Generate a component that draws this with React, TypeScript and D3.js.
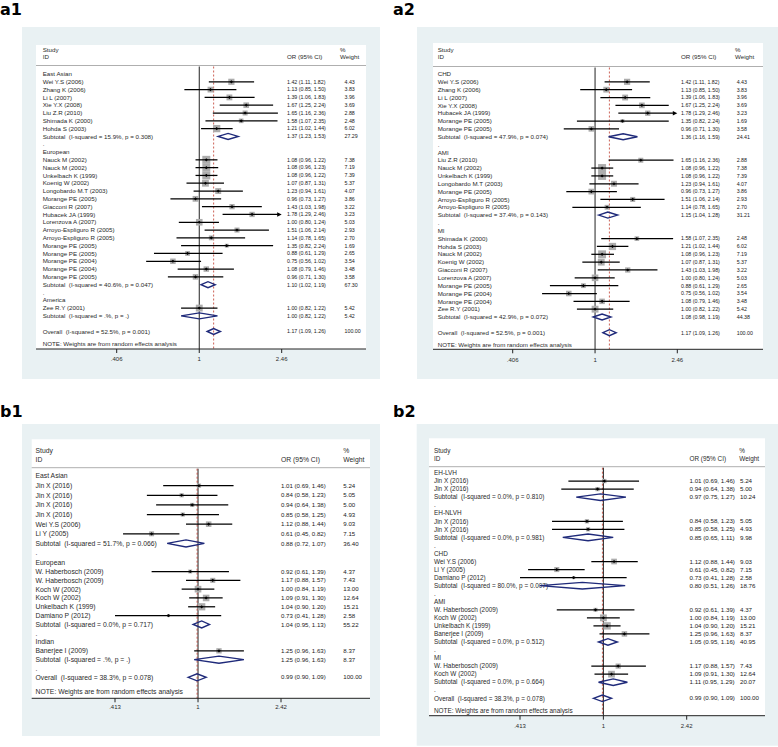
import React from 'react';
import * as d3 from 'd3';

// kind: g = group heading, s = study, t = subtotal, o = overall, d = "." spacer, b = blank
type Row = [string, string, number?, number?, number?, number?];

const a1Rows: Row[] = [
  ['g', 'East Asian'],
  ['s', 'Wei Y.S (2006)', 1.42, 1.11, 1.82, 4.43],
  ['s', 'Zhang K (2006)', 1.13, 0.85, 1.5, 3.83],
  ['s', 'Li L (2007)', 1.39, 1.06, 1.83, 3.96],
  ['s', 'Xie Y.X (2008)', 1.67, 1.25, 2.24, 3.69],
  ['s', 'Liu Z.R (2010)', 1.65, 1.16, 2.36, 2.88],
  ['s', 'Shimada K (2000)', 1.58, 1.07, 2.35, 2.48],
  ['s', 'Hohda S (2003)', 1.21, 1.02, 1.44, 6.02],
  ['t', 'Subtotal  (I-squared = 15.9%, p = 0.308)', 1.37, 1.23, 1.53, 27.29],
  ['d', '.'],
  ['g', 'European'],
  ['s', 'Nauck M (2002)', 1.08, 0.96, 1.22, 7.38],
  ['s', 'Nauck M (2002)', 1.08, 0.96, 1.23, 7.19],
  ['s', 'Unkelbach K (1999)', 1.08, 0.96, 1.22, 7.39],
  ['s', 'Koenig W (2002)', 1.07, 0.87, 1.31, 5.37],
  ['s', 'Longobardo M.T (2003)', 1.23, 0.94, 1.61, 4.07],
  ['s', 'Morange PE (2005)', 0.96, 0.73, 1.27, 3.86],
  ['s', 'Giacconi R (2007)', 1.43, 1.03, 1.98, 3.22],
  ['s', 'Hubacek JA (1999)', 1.78, 1.29, 2.46, 3.23],
  ['s', 'Lorenzova A (2007)', 1.0, 0.8, 1.24, 5.03],
  ['s', 'Arroyo-Espliguro R (2005)', 1.51, 1.06, 2.14, 2.93],
  ['s', 'Arroyo-Espliguro R (2005)', 1.14, 0.78, 1.65, 2.7],
  ['s', 'Morange PE (2005)', 1.35, 0.82, 2.24, 1.69],
  ['s', 'Morange PE (2005)', 0.88, 0.61, 1.29, 2.65],
  ['s', 'Morange PE (2004)', 0.75, 0.56, 1.02, 3.54],
  ['s', 'Morange PE (2004)', 1.08, 0.79, 1.46, 3.48],
  ['s', 'Morange PE (2005)', 0.96, 0.71, 1.3, 3.58],
  ['t', 'Subtotal  (I-squared = 40.6%, p = 0.047)', 1.1, 1.02, 1.19, 67.3],
  ['d', '.'],
  ['g', 'America'],
  ['s', 'Zee R.Y (2001)', 1.0, 0.82, 1.22, 5.42],
  ['t', 'Subtotal  (I-squared = .%, p = .)', 1.0, 0.82, 1.22, 5.42],
  ['b', ''],
  ['o', 'Overall  (I-squared = 52.5%, p = 0.001)', 1.17, 1.09, 1.26, 100.0],
];

const a2Rows: Row[] = [
  ['g', 'CHD'],
  ['s', 'Wei Y.S (2006)', 1.42, 1.11, 1.82, 4.43],
  ['s', 'Zhang K (2006)', 1.13, 0.85, 1.5, 3.83],
  ['s', 'Li L (2007)', 1.39, 1.06, 1.83, 3.96],
  ['s', 'Xie Y.X (2008)', 1.67, 1.25, 2.24, 3.69],
  ['s', 'Hubacek JA (1999)', 1.78, 1.29, 2.46, 3.23],
  ['s', 'Morange PE (2005)', 1.35, 0.82, 2.24, 1.69],
  ['s', 'Morange PE (2005)', 0.96, 0.71, 1.3, 3.58],
  ['t', 'Subtotal  (I-squared = 47.9%, p = 0.074)', 1.36, 1.16, 1.59, 24.41],
  ['d', '.'],
  ['g', 'AMI'],
  ['s', 'Liu Z.R (2010)', 1.65, 1.16, 2.36, 2.88],
  ['s', 'Nauck M (2002)', 1.08, 0.96, 1.22, 7.38],
  ['s', 'Unkelbach K (1999)', 1.08, 0.96, 1.22, 7.39],
  ['s', 'Longobardo M.T (2003)', 1.23, 0.94, 1.61, 4.07],
  ['s', 'Morange PE (2005)', 0.96, 0.73, 1.27, 3.86],
  ['s', 'Arroyo-Espliguro R (2005)', 1.51, 1.06, 2.14, 2.93],
  ['s', 'Arroyo-Espliguro R (2005)', 1.14, 0.78, 1.65, 2.7],
  ['t', 'Subtotal  (I-squared = 37.4%, p = 0.143)', 1.15, 1.04, 1.28, 31.21],
  ['d', '.'],
  ['g', 'MI'],
  ['s', 'Shimada K (2000)', 1.58, 1.07, 2.35, 2.48],
  ['s', 'Hohda S (2003)', 1.21, 1.02, 1.44, 6.02],
  ['s', 'Nauck M (2002)', 1.08, 0.96, 1.23, 7.19],
  ['s', 'Koenig W (2002)', 1.07, 0.87, 1.31, 5.37],
  ['s', 'Giacconi R (2007)', 1.43, 1.03, 1.98, 3.22],
  ['s', 'Lorenzova A (2007)', 1.0, 0.8, 1.24, 5.03],
  ['s', 'Morange PE (2005)', 0.88, 0.61, 1.29, 2.65],
  ['s', 'Morange PE (2004)', 0.75, 0.56, 1.02, 3.54],
  ['s', 'Morange PE (2004)', 1.08, 0.79, 1.46, 3.48],
  ['s', 'Zee R.Y (2001)', 1.0, 0.82, 1.22, 5.42],
  ['t', 'Subtotal  (I-squared = 42.9%, p = 0.072)', 1.08, 0.98, 1.19, 44.38],
  ['b', ''],
  ['o', 'Overall  (I-squared = 52.5%, p = 0.001)', 1.17, 1.09, 1.26, 100.0],
];

const b1Rows: Row[] = [
  ['g', 'East Asian'],
  ['s', 'Jin X (2016)', 1.01, 0.69, 1.46, 5.24],
  ['s', 'Jin X (2016)', 0.84, 0.58, 1.23, 5.05],
  ['s', 'Jin X (2016)', 0.94, 0.64, 1.38, 5.0],
  ['s', 'Jin X (2016)', 0.85, 0.58, 1.25, 4.93],
  ['s', 'Wei Y.S (2006)', 1.12, 0.88, 1.44, 9.03],
  ['s', 'Li Y (2005)', 0.61, 0.45, 0.82, 7.15],
  ['t', 'Subtotal  (I-squared = 51.7%, p = 0.066)', 0.88, 0.72, 1.07, 36.4],
  ['d', '.'],
  ['g', 'European'],
  ['s', 'W. Haberbosch (2009)', 0.92, 0.61, 1.39, 4.37],
  ['s', 'W. Haberbosch (2009)', 1.17, 0.88, 1.57, 7.43],
  ['s', 'Koch W (2002)', 1.0, 0.84, 1.19, 13.0],
  ['s', 'Koch W (2002)', 1.09, 0.91, 1.3, 12.64],
  ['s', 'Unkelbach K (1999)', 1.04, 0.9, 1.2, 15.21],
  ['s', 'Damiano P (2012)', 0.73, 0.41, 1.28, 2.58],
  ['t', 'Subtotal  (I-squared = 0.0%, p = 0.717)', 1.04, 0.95, 1.13, 55.22],
  ['d', '.'],
  ['g', 'Indian'],
  ['s', 'Banerjee I (2009)', 1.25, 0.96, 1.63, 8.37],
  ['t', 'Subtotal  (I-squared = .%, p = .)', 1.25, 0.96, 1.63, 8.37],
  ['d', '.'],
  ['o', 'Overall  (I-squared = 38.3%, p = 0.078)', 0.99, 0.9, 1.09, 100.0],
];

const b2Rows: Row[] = [
  ['g', 'EH-LVH'],
  ['s', 'Jin X (2016)', 1.01, 0.69, 1.46, 5.24],
  ['s', 'Jin X (2016)', 0.94, 0.64, 1.38, 5.0],
  ['t', 'Subtotal  (I-squared = 0.0%, p = 0.810)', 0.97, 0.75, 1.27, 10.24],
  ['d', '.'],
  ['g', 'EH-NLVH'],
  ['s', 'Jin X (2016)', 0.84, 0.58, 1.23, 5.05],
  ['s', 'Jin X (2016)', 0.85, 0.58, 1.25, 4.93],
  ['t', 'Subtotal  (I-squared = 0.0%, p = 0.981)', 0.85, 0.65, 1.11, 9.98],
  ['d', '.'],
  ['g', 'CHD'],
  ['s', 'Wei Y.S (2006)', 1.12, 0.88, 1.44, 9.03],
  ['s', 'Li Y (2005)', 0.61, 0.45, 0.82, 7.15],
  ['s', 'Damiano P (2012)', 0.73, 0.41, 1.28, 2.58],
  ['t', 'Subtotal  (I-squared = 80.0%, p = 0.007)', 0.8, 0.51, 1.26, 18.76],
  ['d', '.'],
  ['g', 'AMI'],
  ['s', 'W. Haberbosch (2009)', 0.92, 0.61, 1.39, 4.37],
  ['s', 'Koch W (2002)', 1.0, 0.84, 1.19, 13.0],
  ['s', 'Unkelbach K (1999)', 1.04, 0.9, 1.2, 15.21],
  ['s', 'Banerjee I (2009)', 1.25, 0.96, 1.63, 8.37],
  ['t', 'Subtotal  (I-squared = 0.0%, p = 0.512)', 1.05, 0.95, 1.16, 40.95],
  ['d', '.'],
  ['g', 'MI'],
  ['s', 'W. Haberbosch (2009)', 1.17, 0.88, 1.57, 7.43],
  ['s', 'Koch W (2002)', 1.09, 0.91, 1.3, 12.64],
  ['t', 'Subtotal  (I-squared = 0.0%, p = 0.664)', 1.11, 0.95, 1.29, 20.07],
  ['d', '.'],
  ['o', 'Overall  (I-squared = 38.3%, p = 0.078)', 0.99, 0.9, 1.09, 100.0],
];

const aTickValues = [0.406, 1, 2.46];
const aTickLabels = ['.406', '1', '2.46'];
const bTickValues = [0.413, 1, 2.42];
const bTickLabels = ['.413', '1', '2.42'];
const headerTexts = ['Study', 'ID', 'OR (95% CI)', '%', 'Weight'];
const noteText = 'NOTE: Weights are from random effects analysis';

const FONT = '"Liberation Sans", Arial, Helvetica, sans-serif';
const TXT = '#2a2a2a';
const NAVY = '#1f2a7a';
const RED = '#c0392b';
const BOXGRAY = '#adadad';
const BG = '#e9f1f3';

interface Cfg {
  name: string;
  rows: Row[];
  tickValues: number[];
  tickLabels: string[];
  lab: [number, number];
  gray: [number, number, number, number];
  white: [number, number, number, number];
  textX: number;
  numX: number;
  wX: number;
  pctX: number;
  hdrY: [number, number];
  hdrLine: number;
  rowDomain: number[];
  rowRange: number[];
  noteY: number;
  axisY: number;
  tickY: number;
  xRange: [number, number];
  labFs: number;
  numFs: number;
  maxSide: number;
  dH: number;
}

const panels: Cfg[] = [
  {
    name: 'a1', rows: a1Rows, tickValues: aTickValues, tickLabels: aTickLabels,
    lab: [0, 15], gray: [22, 27, 380, 379], white: [36, 45, 366, 349],
    textX: 42.7, numX: 287, wX: 344.5, pctX: 340, hdrY: [50, 57], hdrLine: 65.5,
    rowDomain: [0, 33], rowRange: [74, 331.5], noteY: 344.3, axisY: 349, tickY: 359,
    xRange: [116.7, 281.7], labFs: 6.2, numFs: 5.3, maxSide: 8, dH: 3,
  },
  {
    name: 'a2', rows: a2Rows, tickValues: aTickValues, tickLabels: aTickLabels,
    lab: [393, 15], gray: [417, 27, 778, 379], white: [433, 43, 763, 349.3],
    textX: 437.7, numX: 681, wX: 736.7, pctX: 735, hdrY: [50, 57], hdrLine: 66.5,
    rowDomain: [0, 33], rowRange: [74, 332.7], noteY: 345, axisY: 349.3, tickY: 359.7,
    xRange: [512.7, 677.3], labFs: 6.2, numFs: 5.3, maxSide: 8, dH: 3,
  },
  {
    name: 'b1', rows: b1Rows, tickValues: bTickValues, tickLabels: bTickLabels,
    lab: [0, 417.3], gray: [22, 424, 380, 736], white: [31.7, 439.3, 370, 698.3],
    textX: 35.5, numX: 281, wX: 343.3, pctX: 343.3, hdrY: [451, 459.3], hdrLine: 467.7,
    rowDomain: [0, 9, 22], rowRange: [476, 562.7, 677.3], noteY: 691.7, axisY: 698.3, tickY: 706.7,
    xRange: [115, 281], labFs: 6.8, numFs: 6.1, maxSide: 7.2, dH: 3.5,
  },
  {
    name: 'b2', rows: b2Rows, tickValues: bTickValues, tickLabels: bTickLabels,
    lab: [393, 417.3], gray: [416.7, 424, 778, 745.7], white: [429, 438.3, 765, 715.7],
    textX: 434, numX: 689.5, wX: 740, pctX: 739.3, hdrY: [451, 458.3], hdrLine: 466.7,
    rowDomain: [0, 28], rowRange: [473, 698.3], noteY: 711, axisY: 715.7, tickY: 725.7,
    xRange: [520, 686.7], labFs: 6.4, numFs: 6.2, maxSide: 7.4, dH: 3.3,
  },
];

const f2 = (v: number) => v.toFixed(2);

function Panel({ cfg }: { cfg: Cfg }) {
  const [tMin, , tMax] = cfg.tickValues;
  const x = d3.scaleLog().domain([tMin, tMax]).range(cfg.xRange);
  const y = d3.scaleLinear().domain(cfg.rowDomain).range(cfg.rowRange);
  const studies = cfg.rows.filter((r) => r[0] === 's');
  const maxW = d3.max(studies, (r) => r[5] as number) as number;
  const side = d3.scaleSqrt().domain([0, maxW]).range([0, cfg.maxSide]);
  const overall = cfg.rows.find((r) => r[0] === 'o') as Row;
  const [gx0, gy0, gx1, gy1] = cfg.gray;
  const [wx0, wy0, wx1, wy1] = cfg.white;
  const base = (yc: number, fs: number) => yc + fs * 0.35;
  const clampX = (v: number) => x(Math.max(tMin, Math.min(tMax, v)));

  return (
    <g>
      <text x={cfg.lab[0]} y={cfg.lab[1]} fontFamily='"DejaVu Sans", sans-serif' fontWeight="bold" fontSize={16} fill="#000">
        {cfg.name}
      </text>
      <rect x={gx0} y={gy0} width={gx1 - gx0} height={gy1 - gy0} fill={BG} />
      <rect x={wx0} y={wy0} width={wx1 - wx0} height={wy1 - wy0} fill="#fff" />
      <g fontFamily={FONT} fontSize={cfg.labFs} fill={TXT}>
        <text x={cfg.textX} y={base(cfg.hdrY[0], cfg.labFs)}>{headerTexts[0]}</text>
        <text x={cfg.textX} y={base(cfg.hdrY[1], cfg.labFs)}>{headerTexts[1]}</text>
        <text x={cfg.numX} y={base(cfg.hdrY[1], cfg.labFs)}>{headerTexts[2]}</text>
        <text x={cfg.pctX} y={base(cfg.hdrY[0], cfg.labFs)}>{headerTexts[3]}</text>
        <text x={cfg.pctX} y={base(cfg.hdrY[1], cfg.labFs)}>{headerTexts[4]}</text>
      </g>
      <line x1={wx0} x2={wx1} y1={cfg.hdrLine} y2={cfg.hdrLine} stroke="#9a9a9a" strokeWidth={0.8} />
      <line x1={x(1)} x2={x(1)} y1={cfg.hdrLine + 1} y2={cfg.axisY} stroke="#222" strokeWidth={1} />
      <line
        x1={x(overall[2] as number)} x2={x(overall[2] as number)}
        y1={cfg.hdrLine + 1} y2={cfg.axisY}
        stroke={RED} strokeWidth={0.8} strokeDasharray="2,2"
      />
      {cfg.rows.map((r, i) => {
        const yc = y(i);
        const kind = r[0];
        const label = r[1];
        const els: React.ReactNode[] = [];
        if (kind !== 'b') {
          els.push(
            <text key="l" x={cfg.textX} y={base(yc, cfg.labFs)} fontFamily={FONT} fontSize={cfg.labFs} fill={TXT} style={{ whiteSpace: 'pre' }}>
              {label}
            </text>
          );
        }
        if (kind === 's' || kind === 't' || kind === 'o') {
          const est = r[2] as number, lo = r[3] as number, hi = r[4] as number, w = r[5] as number;
          els.push(
            <text key="n" x={cfg.numX} y={base(yc, cfg.numFs)} fontFamily={FONT} fontSize={cfg.numFs} fill="#1a1a1a">
              {`${f2(est)} (${f2(lo)}, ${f2(hi)})`}
            </text>
          );
          els.push(
            <text key="w" x={cfg.wX} y={base(yc, cfg.numFs)} fontFamily={FONT} fontSize={cfg.numFs} fill="#1a1a1a">
              {f2(w)}
            </text>
          );
          if (kind === 's') {
            const s = side(w);
            const cx = x(est);
            const arrowR = hi >= tMax;
            const arrowL = lo < tMin * 0.99;
            const xl = clampX(lo) + (arrowL ? 3 : 0);
            const xr = clampX(hi) - (arrowR ? 3 : 0);
            els.push(<rect key="sq" x={cx - s / 2} y={yc - s / 2} width={s} height={s} fill={BOXGRAY} />);
            els.push(<line key="ci" x1={xl} x2={xr} y1={yc} y2={yc} stroke="#000" strokeWidth={1.25} />);
            if (arrowR) {
              const ax = x(tMax);
              els.push(<path key="ar" d={`M${ax},${yc}L${ax - 4.5},${yc - 2.2}L${ax - 4.5},${yc + 2.2}Z`} fill="#000" />);
            }
            if (arrowL) {
              const ax = x(tMin);
              els.push(<path key="al" d={`M${ax},${yc}L${ax + 4.5},${yc - 2.2}L${ax + 4.5},${yc + 2.2}Z`} fill="#000" />);
            }
            els.push(
              <path key="pt" d={`M${cx},${yc - 1.6}L${cx + 1.6},${yc}L${cx},${yc + 1.6}L${cx - 1.6},${yc}Z`} fill="#000" />
            );
          } else {
            const x0 = x(lo), x1 = x(hi), xc = x(est);
            els.push(
              <path
                key="dm"
                d={`M${x0},${yc}L${xc},${yc - cfg.dH}L${x1},${yc}L${xc},${yc + cfg.dH}Z`}
                fill="none" stroke={NAVY} strokeWidth={1.4}
              />
            );
          }
        }
        return <g key={i}>{els}</g>;
      })}
      <text x={cfg.textX} y={base(cfg.noteY, cfg.labFs)} fontFamily={FONT} fontSize={cfg.labFs} fill={TXT}>
        {noteText}
      </text>
      <line x1={wx0} x2={wx1} y1={cfg.axisY} y2={cfg.axisY} stroke="#222" strokeWidth={1} />
      {cfg.tickValues.map((v, k) => (
        <g key={k}>
          <line x1={x(v)} x2={x(v)} y1={cfg.axisY} y2={cfg.axisY + 4} stroke="#222" strokeWidth={1} />
          <text x={x(v)} y={base(cfg.tickY, 6)} textAnchor="middle" fontFamily={FONT} fontSize={6} fill={TXT}>
            {cfg.tickLabels[k]}
          </text>
        </g>
      ))}
    </g>
  );
}

export default function App() {
  return (
    <svg
      width={778}
      height={747}
      viewBox="0 0 778 747"
      style={{ position: 'absolute', left: 0, top: 0, background: '#fff' }}
    >
      <rect x={0} y={0} width={778} height={747} fill="#fff" />
      {panels.map((p) => (
        <Panel key={p.name} cfg={p} />
      ))}
    </svg>
  );
}
